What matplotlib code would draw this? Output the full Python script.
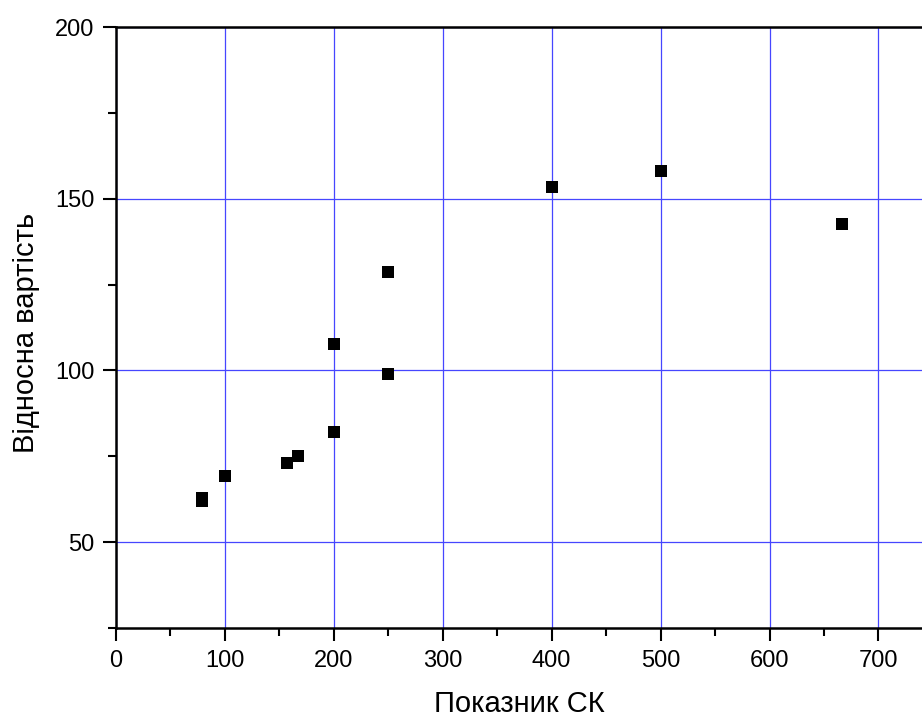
import matplotlib

matplotlib.use("Agg")
import matplotlib.pyplot as plt
from matplotlib.ticker import MultipleLocator

plt.rcParams["font.family"] = ["Liberation Sans", "DejaVu Sans"]

# values
sk_index = [79, 79, 100, 157, 166.7, 200, 200, 250, 250, 400, 500, 666.7]
rel_cost = [62.9, 62.1, 69.3, 73.1, 75.0, 82.0, 107.7, 99.0, 128.7, 153.3, 158.1, 142.6]

x_label = "Показник СК"
y_label = "Відносна вартість"

fig = plt.figure(figsize=(9.22, 7.2), dpi=100)
ax = fig.add_axes([116 / 922, 1 - 628 / 720, 1 - 116 / 922, (628 - 27) / 720])

ax.scatter(sk_index, rel_cost, marker="s", s=66, color="black", linewidths=0, zorder=3)

ax.set_xlim(0, 740)
ax.set_ylim(25, 200)
ax.xaxis.set_major_locator(MultipleLocator(100))
ax.xaxis.set_minor_locator(MultipleLocator(50))
ax.yaxis.set_major_locator(MultipleLocator(50))
ax.yaxis.set_minor_locator(MultipleLocator(25))

ax.grid(True, which="major", color="#4646ff", linewidth=0.9, zorder=1)
ax.set_axisbelow(True)

for side in ("left", "bottom", "top"):
    ax.spines[side].set_linewidth(1.8)
ax.spines["right"].set_visible(False)

ax.tick_params(which="major", direction="out", length=9.5, width=1.5, labelsize=17, pad=6)
ax.tick_params(which="minor", direction="out", length=5.5, width=1.5)

ax.set_xlabel(x_label, fontsize=21, labelpad=13)
ax.set_ylabel(y_label, fontsize=21)
ax.yaxis.set_label_coords(-76 / 806, (628 - 333) / 601)

fig.savefig("out.png", dpi=100)
plt.close(fig)
